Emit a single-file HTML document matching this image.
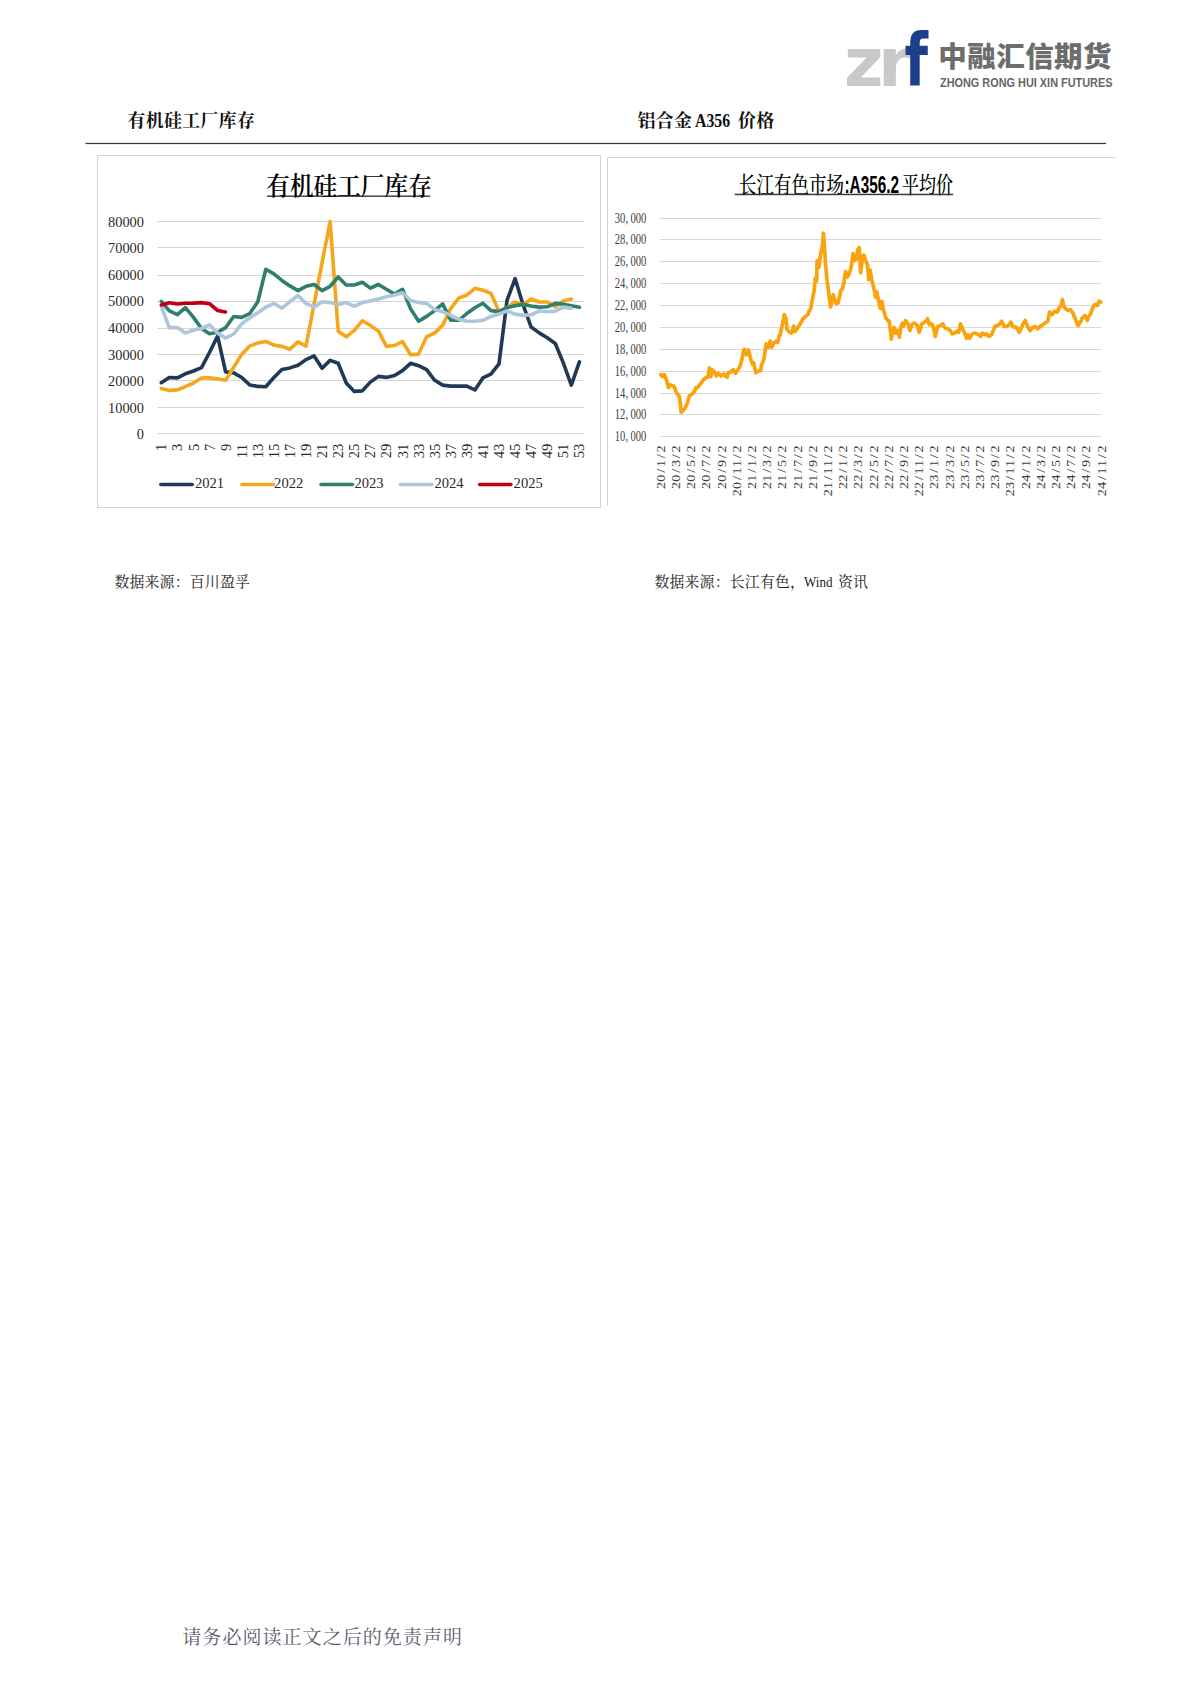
<!DOCTYPE html>
<html lang="zh-CN">
<head>
<meta charset="utf-8">
<title>中融汇信期货</title>
<style>
html,body{margin:0;padding:0;background:#fff;}
body{width:1190px;height:1683px;position:relative;overflow:hidden;font-family:"Liberation Serif","Noto Serif CJK SC",serif;color:#111;}
svg{font-family:"Liberation Serif","Noto Serif CJK SC",serif;}
.t{position:absolute;white-space:nowrap;line-height:1;}
.h{font-size:17.9px;font-weight:700;color:#111;letter-spacing:0.35px;}
.src{font-size:14.9px;color:#222;letter-spacing:0.18px;}
.foot{font-size:19px;letter-spacing:1.05px;color:#575e6c;font-weight:400;}
.logo-cn{font-family:"Liberation Sans","Noto Sans CJK SC",sans-serif;font-weight:900;color:#6d6d6d;font-size:28.5px;}
.logo-en{font-family:"Liberation Sans",sans-serif;font-weight:700;color:#666;font-size:13.2px;}
</style>
</head>
<body>
<svg width="1190" height="1683" viewBox="0 0 1190 1683" style="position:absolute;left:0;top:0">
<rect x="85.5" y="142.9" width="1020.5" height="1.2" fill="#333"/>
<rect x="97.5" y="155.5" width="503" height="352" fill="#fff" stroke="#d4d4d4" stroke-width="1"/>
<path d="M607.5 505.5V157.5H1115.5" fill="none" stroke="#d4d4d4" stroke-width="1"/>
<line x1="157.5" x2="583.5" y1="433.5" y2="433.5" stroke="#d6d6d6" stroke-width="1"/>
<text x="144" y="439.1" text-anchor="end" font-size="15" fill="#2a2a2a" textLength="7.2" lengthAdjust="spacingAndGlyphs">0</text>
<line x1="157.5" x2="583.5" y1="407.5" y2="407.5" stroke="#d6d6d6" stroke-width="1"/>
<text x="144" y="412.6" text-anchor="end" font-size="15" fill="#2a2a2a" textLength="36.0" lengthAdjust="spacingAndGlyphs">10000</text>
<line x1="157.5" x2="583.5" y1="380.5" y2="380.5" stroke="#d6d6d6" stroke-width="1"/>
<text x="144" y="386.0" text-anchor="end" font-size="15" fill="#2a2a2a" textLength="36.0" lengthAdjust="spacingAndGlyphs">20000</text>
<line x1="157.5" x2="583.5" y1="354.5" y2="354.5" stroke="#d6d6d6" stroke-width="1"/>
<text x="144" y="359.5" text-anchor="end" font-size="15" fill="#2a2a2a" textLength="36.0" lengthAdjust="spacingAndGlyphs">30000</text>
<line x1="157.5" x2="583.5" y1="328.5" y2="328.5" stroke="#d6d6d6" stroke-width="1"/>
<text x="144" y="332.9" text-anchor="end" font-size="15" fill="#2a2a2a" textLength="36.0" lengthAdjust="spacingAndGlyphs">40000</text>
<line x1="157.5" x2="583.5" y1="301.5" y2="301.5" stroke="#d6d6d6" stroke-width="1"/>
<text x="144" y="306.4" text-anchor="end" font-size="15" fill="#2a2a2a" textLength="36.0" lengthAdjust="spacingAndGlyphs">50000</text>
<line x1="157.5" x2="583.5" y1="275.5" y2="275.5" stroke="#d6d6d6" stroke-width="1"/>
<text x="144" y="279.9" text-anchor="end" font-size="15" fill="#2a2a2a" textLength="36.0" lengthAdjust="spacingAndGlyphs">60000</text>
<line x1="157.5" x2="583.5" y1="247.5" y2="247.5" stroke="#d6d6d6" stroke-width="1"/>
<text x="144" y="253.3" text-anchor="end" font-size="15" fill="#2a2a2a" textLength="36.0" lengthAdjust="spacingAndGlyphs">70000</text>
<line x1="157.5" x2="583.5" y1="221.5" y2="221.5" stroke="#d6d6d6" stroke-width="1"/>
<text x="144" y="226.8" text-anchor="end" font-size="15" fill="#2a2a2a" textLength="36.0" lengthAdjust="spacingAndGlyphs">80000</text>
<text x="266.3" y="194.7" font-size="24.6" font-weight="600" fill="#000" textLength="165.5" lengthAdjust="spacingAndGlyphs">有机硅工厂库存</text>
<rect x="267" y="195.6" width="163.2" height="1.1" fill="#000"/>
<text transform="translate(166.3,443.8) rotate(-90)" x="0" y="0" text-anchor="end" font-size="15" fill="#2a2a2a" textLength="7.2" lengthAdjust="spacingAndGlyphs">1</text>
<text transform="translate(182.4,443.8) rotate(-90)" x="0" y="0" text-anchor="end" font-size="15" fill="#2a2a2a" textLength="7.2" lengthAdjust="spacingAndGlyphs">3</text>
<text transform="translate(198.5,443.8) rotate(-90)" x="0" y="0" text-anchor="end" font-size="15" fill="#2a2a2a" textLength="7.2" lengthAdjust="spacingAndGlyphs">5</text>
<text transform="translate(214.5,443.8) rotate(-90)" x="0" y="0" text-anchor="end" font-size="15" fill="#2a2a2a" textLength="7.2" lengthAdjust="spacingAndGlyphs">7</text>
<text transform="translate(230.6,443.8) rotate(-90)" x="0" y="0" text-anchor="end" font-size="15" fill="#2a2a2a" textLength="7.2" lengthAdjust="spacingAndGlyphs">9</text>
<text transform="translate(246.7,443.8) rotate(-90)" x="0" y="0" text-anchor="end" font-size="15" fill="#2a2a2a" textLength="14.5" lengthAdjust="spacingAndGlyphs">11</text>
<text transform="translate(262.8,443.8) rotate(-90)" x="0" y="0" text-anchor="end" font-size="15" fill="#2a2a2a" textLength="14.5" lengthAdjust="spacingAndGlyphs">13</text>
<text transform="translate(278.9,443.8) rotate(-90)" x="0" y="0" text-anchor="end" font-size="15" fill="#2a2a2a" textLength="14.5" lengthAdjust="spacingAndGlyphs">15</text>
<text transform="translate(294.9,443.8) rotate(-90)" x="0" y="0" text-anchor="end" font-size="15" fill="#2a2a2a" textLength="14.5" lengthAdjust="spacingAndGlyphs">17</text>
<text transform="translate(311.0,443.8) rotate(-90)" x="0" y="0" text-anchor="end" font-size="15" fill="#2a2a2a" textLength="14.5" lengthAdjust="spacingAndGlyphs">19</text>
<text transform="translate(327.1,443.8) rotate(-90)" x="0" y="0" text-anchor="end" font-size="15" fill="#2a2a2a" textLength="14.5" lengthAdjust="spacingAndGlyphs">21</text>
<text transform="translate(343.2,443.8) rotate(-90)" x="0" y="0" text-anchor="end" font-size="15" fill="#2a2a2a" textLength="14.5" lengthAdjust="spacingAndGlyphs">23</text>
<text transform="translate(359.3,443.8) rotate(-90)" x="0" y="0" text-anchor="end" font-size="15" fill="#2a2a2a" textLength="14.5" lengthAdjust="spacingAndGlyphs">25</text>
<text transform="translate(375.3,443.8) rotate(-90)" x="0" y="0" text-anchor="end" font-size="15" fill="#2a2a2a" textLength="14.5" lengthAdjust="spacingAndGlyphs">27</text>
<text transform="translate(391.4,443.8) rotate(-90)" x="0" y="0" text-anchor="end" font-size="15" fill="#2a2a2a" textLength="14.5" lengthAdjust="spacingAndGlyphs">29</text>
<text transform="translate(407.5,443.8) rotate(-90)" x="0" y="0" text-anchor="end" font-size="15" fill="#2a2a2a" textLength="14.5" lengthAdjust="spacingAndGlyphs">31</text>
<text transform="translate(423.6,443.8) rotate(-90)" x="0" y="0" text-anchor="end" font-size="15" fill="#2a2a2a" textLength="14.5" lengthAdjust="spacingAndGlyphs">33</text>
<text transform="translate(439.7,443.8) rotate(-90)" x="0" y="0" text-anchor="end" font-size="15" fill="#2a2a2a" textLength="14.5" lengthAdjust="spacingAndGlyphs">35</text>
<text transform="translate(455.7,443.8) rotate(-90)" x="0" y="0" text-anchor="end" font-size="15" fill="#2a2a2a" textLength="14.5" lengthAdjust="spacingAndGlyphs">37</text>
<text transform="translate(471.8,443.8) rotate(-90)" x="0" y="0" text-anchor="end" font-size="15" fill="#2a2a2a" textLength="14.5" lengthAdjust="spacingAndGlyphs">39</text>
<text transform="translate(487.9,443.8) rotate(-90)" x="0" y="0" text-anchor="end" font-size="15" fill="#2a2a2a" textLength="14.5" lengthAdjust="spacingAndGlyphs">41</text>
<text transform="translate(504.0,443.8) rotate(-90)" x="0" y="0" text-anchor="end" font-size="15" fill="#2a2a2a" textLength="14.5" lengthAdjust="spacingAndGlyphs">43</text>
<text transform="translate(520.1,443.8) rotate(-90)" x="0" y="0" text-anchor="end" font-size="15" fill="#2a2a2a" textLength="14.5" lengthAdjust="spacingAndGlyphs">45</text>
<text transform="translate(536.1,443.8) rotate(-90)" x="0" y="0" text-anchor="end" font-size="15" fill="#2a2a2a" textLength="14.5" lengthAdjust="spacingAndGlyphs">47</text>
<text transform="translate(552.2,443.8) rotate(-90)" x="0" y="0" text-anchor="end" font-size="15" fill="#2a2a2a" textLength="14.5" lengthAdjust="spacingAndGlyphs">49</text>
<text transform="translate(568.3,443.8) rotate(-90)" x="0" y="0" text-anchor="end" font-size="15" fill="#2a2a2a" textLength="14.5" lengthAdjust="spacingAndGlyphs">51</text>
<text transform="translate(584.4,443.8) rotate(-90)" x="0" y="0" text-anchor="end" font-size="15" fill="#2a2a2a" textLength="14.5" lengthAdjust="spacingAndGlyphs">53</text>
<polyline points="161.3,382.7 169.3,377.5 177.4,377.9 185.4,373.8 193.5,371.0 201.5,367.7 209.5,352.5 217.6,336.0 225.6,371.9 233.7,372.9 241.7,377.5 249.7,384.9 257.8,386.4 265.8,386.7 273.9,377.5 281.9,369.5 289.9,367.9 298.0,365.2 306.0,359.6 314.1,355.9 322.1,368.3 330.1,360.4 338.2,363.3 346.2,382.9 354.3,391.4 362.3,390.9 370.3,382.1 378.4,376.4 386.4,377.4 394.5,375.5 402.5,370.6 410.5,363.3 418.6,365.7 426.6,369.7 434.7,380.3 442.7,385.1 450.7,386.1 458.8,386.1 466.8,386.1 474.9,390.0 482.9,377.9 490.9,374.2 499.0,363.8 507.0,300.4 515.1,278.6 523.1,304.9 531.1,327.0 539.2,332.9 547.2,337.7 555.3,343.5 563.3,362.9 571.3,385.1 579.4,361.9" fill="none" stroke="#203a56" stroke-width="3.6" stroke-linejoin="round" stroke-linecap="round"/>
<polyline points="161.3,388.6 169.3,390.4 177.4,389.9 185.4,386.7 193.5,383.0 201.5,378.0 209.5,377.9 217.6,378.8 225.6,380.3 233.7,367.3 241.7,354.4 249.7,346.1 257.8,342.9 265.8,341.4 273.9,345.1 281.9,346.4 289.9,349.2 298.0,341.8 306.0,346.1 314.1,303.9 322.1,262.7 330.1,221.6 338.2,331.2 346.2,336.8 354.3,330.4 362.3,320.8 370.3,325.4 378.4,330.9 386.4,346.4 394.5,345.5 402.5,341.5 410.5,354.8 418.6,354.1 426.6,336.8 434.7,332.9 442.7,325.1 450.7,308.6 458.8,298.0 466.8,295.1 474.9,288.3 482.9,290.3 490.9,293.2 499.0,311.6 507.0,307.7 515.1,302.0 523.1,304.8 531.1,299.0 539.2,302.0 547.2,302.0 555.3,306.8 563.3,300.9 571.3,299.0" fill="none" stroke="#f5a61b" stroke-width="3.6" stroke-linejoin="round" stroke-linecap="round"/>
<polyline points="161.3,301.3 169.3,310.9 177.4,314.6 185.4,307.6 193.5,317.4 201.5,328.5 209.5,333.7 217.6,332.2 225.6,327.6 233.7,316.5 241.7,317.4 249.7,313.7 257.8,301.7 265.8,269.3 273.9,273.9 281.9,280.4 289.9,285.9 298.0,290.6 306.0,286.3 314.1,284.5 322.1,290.6 330.1,286.3 338.2,277.0 346.2,285.0 354.3,285.0 362.3,282.2 370.3,288.1 378.4,284.5 386.4,289.3 394.5,294.1 402.5,289.3 410.5,308.6 418.6,321.2 426.6,316.4 434.7,310.6 442.7,303.9 450.7,320.3 458.8,320.3 466.8,313.5 474.9,307.7 482.9,303.2 490.9,310.6 499.0,311.6 507.0,307.7 515.1,305.7 523.1,304.4 531.1,306.1 539.2,307.1 547.2,306.8 555.3,303.4 563.3,304.2 571.3,305.7 579.4,307.3" fill="none" stroke="#2f7f6d" stroke-width="3.6" stroke-linejoin="round" stroke-linecap="round"/>
<polyline points="161.3,306.3 169.3,327.6 177.4,327.6 185.4,333.1 193.5,330.0 201.5,328.5 209.5,324.8 217.6,333.1 225.6,338.1 233.7,334.0 241.7,323.9 249.7,317.9 257.8,312.8 265.8,307.2 273.9,303.5 281.9,308.1 289.9,301.7 298.0,295.5 306.0,303.5 314.1,307.2 322.1,301.7 330.1,302.6 338.2,304.4 346.2,302.6 354.3,306.3 362.3,302.5 370.3,301.1 378.4,299.0 386.4,296.7 394.5,295.1 402.5,292.8 410.5,300.5 418.6,302.4 426.6,303.4 434.7,309.6 442.7,311.6 450.7,315.4 458.8,319.3 466.8,321.2 474.9,321.2 482.9,320.3 490.9,316.4 499.0,314.1 507.0,311.0 515.1,314.1 523.1,315.4 531.1,314.8 539.2,311.0 547.2,311.6 555.3,311.2 563.3,307.1 571.3,308.3" fill="none" stroke="#adc6dc" stroke-width="3.6" stroke-linejoin="round" stroke-linecap="round"/>
<polyline points="161.3,304.9 169.3,302.8 177.4,304.0 185.4,303.3 193.5,303.1 201.5,302.6 209.5,303.7 217.6,310.5 225.6,312.0" fill="none" stroke="#c0000f" stroke-width="3.6" stroke-linejoin="round" stroke-linecap="round"/>
<line x1="160.8" x2="192.3" y1="484.5" y2="484.5" stroke="#203a56" stroke-width="3.4" stroke-linecap="round"/>
<text x="194.9" y="488.3" font-size="15" fill="#2a2a2a" textLength="29.2" lengthAdjust="spacingAndGlyphs">2021</text>
<line x1="241.8" x2="273.3" y1="484.5" y2="484.5" stroke="#f5a61b" stroke-width="3.4" stroke-linecap="round"/>
<text x="274.1" y="488.3" font-size="15" fill="#2a2a2a" textLength="29.2" lengthAdjust="spacingAndGlyphs">2022</text>
<line x1="321.0" x2="352.5" y1="484.5" y2="484.5" stroke="#2f7f6d" stroke-width="3.4" stroke-linecap="round"/>
<text x="354.4" y="488.3" font-size="15" fill="#2a2a2a" textLength="29.2" lengthAdjust="spacingAndGlyphs">2023</text>
<line x1="400.3" x2="431.8" y1="484.5" y2="484.5" stroke="#adc6dc" stroke-width="3.4" stroke-linecap="round"/>
<text x="434.4" y="488.3" font-size="15" fill="#2a2a2a" textLength="29.2" lengthAdjust="spacingAndGlyphs">2024</text>
<line x1="479.5" x2="511.0" y1="484.5" y2="484.5" stroke="#c0000f" stroke-width="3.4" stroke-linecap="round"/>
<text x="513.6" y="488.3" font-size="15" fill="#2a2a2a" textLength="29.2" lengthAdjust="spacingAndGlyphs">2025</text>
<line x1="659.8" x2="1101.3" y1="436.5" y2="436.5" stroke="#d9d9d9" stroke-width="1"/>
<text transform="translate(646.3,440.5) scale(0.737,1)" x="-42.90 -35.75 -28.30 -21.45 -14.30 -7.15" y="0" font-size="14.3" fill="#3c3c3c">10,000</text>
<line x1="659.8" x2="1101.3" y1="414.5" y2="414.5" stroke="#d9d9d9" stroke-width="1"/>
<text transform="translate(646.3,418.5) scale(0.737,1)" x="-42.90 -35.75 -28.30 -21.45 -14.30 -7.15" y="0" font-size="14.3" fill="#3c3c3c">12,000</text>
<line x1="659.8" x2="1101.3" y1="393.5" y2="393.5" stroke="#d9d9d9" stroke-width="1"/>
<text transform="translate(646.3,397.5) scale(0.737,1)" x="-42.90 -35.75 -28.30 -21.45 -14.30 -7.15" y="0" font-size="14.3" fill="#3c3c3c">14,000</text>
<line x1="659.8" x2="1101.3" y1="371.5" y2="371.5" stroke="#d9d9d9" stroke-width="1"/>
<text transform="translate(646.3,375.5) scale(0.737,1)" x="-42.90 -35.75 -28.30 -21.45 -14.30 -7.15" y="0" font-size="14.3" fill="#3c3c3c">16,000</text>
<line x1="659.8" x2="1101.3" y1="349.5" y2="349.5" stroke="#d9d9d9" stroke-width="1"/>
<text transform="translate(646.3,353.5) scale(0.737,1)" x="-42.90 -35.75 -28.30 -21.45 -14.30 -7.15" y="0" font-size="14.3" fill="#3c3c3c">18,000</text>
<line x1="659.8" x2="1101.3" y1="327.5" y2="327.5" stroke="#d9d9d9" stroke-width="1"/>
<text transform="translate(646.3,331.5) scale(0.737,1)" x="-42.90 -35.75 -28.30 -21.45 -14.30 -7.15" y="0" font-size="14.3" fill="#3c3c3c">20,000</text>
<line x1="659.8" x2="1101.3" y1="305.5" y2="305.5" stroke="#d9d9d9" stroke-width="1"/>
<text transform="translate(646.3,309.5) scale(0.737,1)" x="-42.90 -35.75 -28.30 -21.45 -14.30 -7.15" y="0" font-size="14.3" fill="#3c3c3c">22,000</text>
<line x1="659.8" x2="1101.3" y1="283.5" y2="283.5" stroke="#d9d9d9" stroke-width="1"/>
<text transform="translate(646.3,287.5) scale(0.737,1)" x="-42.90 -35.75 -28.30 -21.45 -14.30 -7.15" y="0" font-size="14.3" fill="#3c3c3c">24,000</text>
<line x1="659.8" x2="1101.3" y1="261.5" y2="261.5" stroke="#d9d9d9" stroke-width="1"/>
<text transform="translate(646.3,265.5) scale(0.737,1)" x="-42.90 -35.75 -28.30 -21.45 -14.30 -7.15" y="0" font-size="14.3" fill="#3c3c3c">26,000</text>
<line x1="659.8" x2="1101.3" y1="239.5" y2="239.5" stroke="#d9d9d9" stroke-width="1"/>
<text transform="translate(646.3,243.5) scale(0.737,1)" x="-42.90 -35.75 -28.30 -21.45 -14.30 -7.15" y="0" font-size="14.3" fill="#3c3c3c">28,000</text>
<line x1="659.8" x2="1101.3" y1="218.5" y2="218.5" stroke="#d9d9d9" stroke-width="1"/>
<text transform="translate(646.3,222.5) scale(0.737,1)" x="-42.90 -35.75 -28.30 -21.45 -14.30 -7.15" y="0" font-size="14.3" fill="#3c3c3c">30,000</text>
<polyline points="660.7,374.6 662.3,376.7 664.3,374.6 665.4,377.0 666.4,380.1 667.1,382.0 667.8,385.4 668.4,387.6 670.5,384.9 673.9,386.2 674.8,387.7 675.7,390.8 676.6,393.1 678.0,394.5 679.4,396.5 679.6,397.9 679.9,401.0 680.1,402.4 680.4,405.3 680.6,406.9 680.9,409.2 681.1,412.2 682.8,410.8 684.8,408.8 685.9,406.2 686.9,404.0 687.6,402.5 688.3,399.2 688.9,397.3 689.6,395.8 692.3,393.7 694.4,391.7 695.1,389.9 695.8,387.6 697.8,387.6 699.9,384.2 701.2,383.3 702.6,380.8 705.3,378.0 708.1,376.7 708.4,374.6 708.7,372.0 709.1,370.9 709.4,367.8 709.8,369.2 710.1,372.9 710.5,374.1 710.8,376.7 711.2,373.7 711.7,371.4 712.2,369.8 714.2,371.9 715.2,373.6 716.3,376.0 718.3,373.3 721.0,376.0 723.8,373.9 725.5,376.2 727.2,377.3 727.5,374.7 727.9,373.3 730.6,371.9 733.3,369.8 735.4,373.3 737.4,370.5 739.5,367.1 740.2,365.2 740.8,363.3 741.5,361.0 742.1,358.4 742.6,356.4 743.2,353.2 743.7,350.9 744.3,349.3 745.3,351.5 746.3,354.8 747.3,352.7 748.4,350.0 748.9,351.9 749.4,353.8 749.9,356.3 750.4,358.2 751.1,360.2 751.8,362.0 752.5,364.4 753.8,363.0 754.3,365.9 754.8,368.1 755.4,369.7 755.9,372.6 757.9,371.2 760.7,370.5 761.0,368.3 761.3,365.7 762.2,363.3 763.2,361.4 764.1,358.2 764.4,356.6 764.7,353.7 764.9,352.9 765.2,349.3 765.5,347.8 765.8,346.4 766.1,343.9 768.2,347.3 768.9,344.6 769.5,343.2 770.2,341.1 770.7,342.4 771.1,345.5 771.6,347.3 772.6,345.7 773.6,343.2 776.4,341.1 777.7,342.5 778.2,340.4 778.6,338.6 779.1,335.7 780.0,335.7 780.5,333.0 781.0,331.3 781.5,328.7 782.0,326.1 782.5,323.9 782.9,321.4 783.3,319.8 783.7,317.6 784.1,314.5 785.1,316.9 786.1,319.3 786.3,322.0 786.5,323.3 786.7,326.8 786.8,328.9 788.9,331.6 791.6,333.0 792.3,330.9 793.0,329.3 793.7,326.1 794.3,329.4 795.0,331.6 797.1,328.9 798.4,326.4 799.8,324.8 800.7,322.7 801.6,321.4 802.5,319.3 805.3,316.6 808.0,314.5 808.9,311.6 809.8,310.3 810.7,308.4 811.1,305.6 811.6,303.3 812.0,301.0 812.4,300.1 812.8,297.4 813.2,294.5 813.7,292.4 814.2,290.6 814.3,288.4 814.5,287.2 814.7,283.7 814.9,282.3 815.1,280.4 815.2,278.3 816.6,281.0 816.7,279.7 816.7,277.5 816.8,275.5 816.8,272.4 816.9,270.6 816.9,268.5 817.0,267.4 817.0,265.5 817.1,262.0 817.2,260.5 817.8,262.2 818.3,264.6 818.9,267.4 819.2,264.8 819.5,263.1 819.8,261.1 820.1,258.4 820.4,255.8 820.7,254.4 821.0,252.3 821.4,250.1 821.8,248.4 822.2,247.0 822.6,244.2 822.8,242.3 823.0,239.8 823.1,237.8 823.3,235.7 823.4,233.2 823.6,234.5 823.8,238.0 823.9,239.9 824.1,242.1 824.2,244.0 824.4,245.5 824.5,247.4 824.6,249.4 824.8,251.0 824.9,254.0 825.0,255.0 825.1,257.0 825.2,259.3 825.4,261.9 825.5,263.4 825.7,265.7 825.9,267.3 826.0,269.2 826.2,271.5 826.4,273.5 826.6,276.0 826.7,278.3 827.1,279.7 827.4,283.5 827.8,285.1 828.0,287.4 828.3,288.6 828.5,290.8 828.7,293.1 829.0,295.1 829.2,297.4 829.5,299.1 829.9,302.8 830.2,305.5 830.5,307.0 831.1,304.9 831.6,302.9 832.0,300.8 832.5,298.1 832.9,296.0 833.3,294.7 834.0,297.1 834.6,300.2 836.0,303.6 838.1,302.9 838.7,299.7 839.4,297.4 839.9,295.7 840.3,292.3 840.8,290.6 842.8,287.9 843.3,284.7 843.8,284.1 844.2,281.0 844.5,278.7 844.9,275.6 845.2,273.9 845.6,271.5 846.4,273.4 847.2,276.9 849.0,274.2 849.7,272.0 850.4,270.5 851.0,267.4 851.4,265.8 851.7,263.2 852.1,260.1 852.4,258.0 852.7,255.4 853.1,253.7 853.5,256.5 854.0,258.3 854.5,260.5 856.5,259.2 856.8,257.3 857.2,254.1 857.5,251.5 857.9,249.6 859.2,247.6 859.3,250.2 859.5,252.7 859.6,254.5 859.7,256.5 859.8,258.7 859.9,260.6 860.0,261.8 860.1,264.4 860.3,266.3 860.4,267.8 860.5,269.9 860.6,272.8 860.9,270.4 861.1,268.3 861.4,267.0 861.7,264.6 861.9,263.4 862.2,260.5 862.4,259.3 862.7,256.4 864.0,255.1 864.7,258.0 865.4,259.2 866.4,262.7 867.4,264.6 867.6,266.5 867.8,268.4 868.0,270.6 868.2,272.7 868.4,274.8 868.6,277.7 868.8,279.7 869.1,278.0 869.5,275.5 869.8,272.5 870.2,270.1 870.5,272.4 870.8,274.7 871.2,275.5 871.5,278.3 872.0,280.6 872.6,283.1 873.1,285.0 873.6,286.5 874.0,289.1 874.4,290.8 874.8,292.5 875.2,295.8 875.6,297.4 876.3,294.4 877.0,292.0 877.3,294.6 877.7,296.9 878.0,297.9 878.4,300.2 878.9,302.0 879.4,305.1 879.9,306.7 880.4,308.4 880.9,305.5 881.3,303.1 881.8,301.5 882.3,303.3 882.8,307.0 883.3,309.3 883.8,311.1 884.5,312.7 885.2,316.2 885.9,317.9 887.9,320.7 889.3,321.3 889.5,324.4 889.8,326.1 890.1,327.7 890.3,330.3 890.6,331.8 890.8,333.8 891.1,337.7 891.3,339.1 891.7,337.1 892.0,334.7 892.4,333.2 892.7,330.2 894.1,327.5 894.8,330.1 895.4,333.0 897.5,330.2 898.2,333.2 898.9,335.4 899.5,337.0 899.9,334.1 900.2,331.8 900.6,329.5 900.9,327.5 901.6,325.0 902.3,323.4 903.6,326.1 904.7,323.5 905.7,320.7 907.7,323.4 908.4,325.2 909.1,327.8 909.8,330.2 910.0,330.6 910.6,328.0 911.1,327.4 911.7,324.7 914.2,323.0 916.7,324.7 917.6,327.0 918.4,329.7 919.2,332.3 919.9,330.3 920.5,328.8 921.1,325.8 921.8,323.9 924.3,322.2 926.0,321.3 927.6,318.8 928.2,320.8 928.8,322.8 929.3,324.7 931.8,323.9 932.7,326.0 933.5,328.1 933.9,329.3 934.4,332.2 934.8,333.8 935.2,336.5 935.7,333.6 936.2,333.0 936.7,329.8 937.2,328.4 937.7,326.4 940.3,325.5 942.8,323.9 944.0,326.4 945.3,328.1 947.8,328.9 950.3,330.6 952.0,333.9 954.5,333.1 957.1,331.4 958.7,332.3 959.2,330.3 959.6,327.8 960.0,326.0 960.4,323.9 961.4,326.1 962.4,328.1 963.5,331.1 964.6,333.1 965.5,334.9 966.3,338.2 968.0,334.8 969.7,338.2 970.9,336.2 972.2,333.9 974.7,333.1 977.2,333.9 978.9,334.8 980.6,336.5 982.3,333.1 984.8,334.8 986.5,333.9 989.0,336.5 991.5,334.8 992.4,332.3 993.2,330.6 994.0,329.0 994.9,326.4 997.4,325.5 999.9,323.9 1001.6,321.3 1002.9,323.9 1004.1,326.4 1006.6,326.4 1009.2,324.7 1010.8,322.2 1012.1,324.8 1013.4,327.2 1015.9,327.2 1017.6,328.9 1019.2,332.3 1020.9,328.9 1021.9,326.9 1022.9,323.9 1024.0,322.9 1025.1,320.5 1026.0,322.5 1026.8,324.7 1028.5,328.1 1030.2,330.6 1031.4,329.1 1032.7,327.2 1035.2,326.4 1037.7,328.9 1040.3,326.4 1042.8,324.7 1045.3,323.0 1047.8,321.3 1048.2,319.0 1048.7,316.7 1049.1,314.8 1049.5,312.1 1052.0,314.6 1053.3,312.9 1054.5,311.3 1057.1,312.1 1058.3,309.6 1059.6,307.1 1061.3,305.4 1061.8,302.4 1062.4,299.5 1062.9,302.5 1063.3,304.3 1063.8,306.2 1065.5,308.7 1068.0,310.4 1070.5,309.6 1071.8,311.9 1073.0,312.9 1073.9,316.0 1074.7,317.0 1075.5,319.7 1076.4,321.7 1077.2,324.4 1078.1,325.5 1079.7,323.0 1081.0,321.1 1082.3,318.0 1084.8,315.5 1086.1,317.3 1087.3,320.5 1088.2,317.7 1089.0,316.3 1090.7,313.8 1091.5,311.2 1092.4,308.7 1093.6,305.9 1094.9,304.5 1097.4,305.4 1098.2,302.8 1099.1,301.2 1100.8,302.0" fill="none" stroke="#f9a30e" stroke-width="3.7" stroke-linejoin="round" stroke-linecap="round"/>
<text transform="translate(664.7,445.2) rotate(-90) scale(1,0.88)" x="-43.83 -36.51 -27.60 -21.87 -12.96 -7.22" y="0" font-size="14.26" fill="#3c3c3c">20/1/2</text>
<text transform="translate(679.9,445.2) rotate(-90) scale(1,0.88)" x="-43.83 -36.51 -27.60 -21.87 -12.96 -7.22" y="0" font-size="14.26" fill="#3c3c3c">20/3/2</text>
<text transform="translate(695.1,445.2) rotate(-90) scale(1,0.88)" x="-43.83 -36.51 -27.60 -21.87 -12.96 -7.22" y="0" font-size="14.26" fill="#3c3c3c">20/5/2</text>
<text transform="translate(710.3,445.2) rotate(-90) scale(1,0.88)" x="-43.83 -36.51 -27.60 -21.87 -12.96 -7.22" y="0" font-size="14.26" fill="#3c3c3c">20/7/2</text>
<text transform="translate(725.5,445.2) rotate(-90) scale(1,0.88)" x="-43.83 -36.51 -27.60 -21.87 -12.96 -7.22" y="0" font-size="14.26" fill="#3c3c3c">20/9/2</text>
<text transform="translate(740.7,445.2) rotate(-90) scale(1,0.88)" x="-51.15 -43.83 -34.92 -29.19 -21.87 -12.96 -7.22" y="0" font-size="14.26" fill="#3c3c3c">20/11/2</text>
<text transform="translate(755.9,445.2) rotate(-90) scale(1,0.88)" x="-43.83 -36.51 -27.60 -21.87 -12.96 -7.22" y="0" font-size="14.26" fill="#3c3c3c">21/1/2</text>
<text transform="translate(771.1,445.2) rotate(-90) scale(1,0.88)" x="-43.83 -36.51 -27.60 -21.87 -12.96 -7.22" y="0" font-size="14.26" fill="#3c3c3c">21/3/2</text>
<text transform="translate(786.3,445.2) rotate(-90) scale(1,0.88)" x="-43.83 -36.51 -27.60 -21.87 -12.96 -7.22" y="0" font-size="14.26" fill="#3c3c3c">21/5/2</text>
<text transform="translate(801.5,445.2) rotate(-90) scale(1,0.88)" x="-43.83 -36.51 -27.60 -21.87 -12.96 -7.22" y="0" font-size="14.26" fill="#3c3c3c">21/7/2</text>
<text transform="translate(816.7,445.2) rotate(-90) scale(1,0.88)" x="-43.83 -36.51 -27.60 -21.87 -12.96 -7.22" y="0" font-size="14.26" fill="#3c3c3c">21/9/2</text>
<text transform="translate(831.9,445.2) rotate(-90) scale(1,0.88)" x="-51.15 -43.83 -34.92 -29.19 -21.87 -12.96 -7.22" y="0" font-size="14.26" fill="#3c3c3c">21/11/2</text>
<text transform="translate(847.1,445.2) rotate(-90) scale(1,0.88)" x="-43.83 -36.51 -27.60 -21.87 -12.96 -7.22" y="0" font-size="14.26" fill="#3c3c3c">22/1/2</text>
<text transform="translate(862.3,445.2) rotate(-90) scale(1,0.88)" x="-43.83 -36.51 -27.60 -21.87 -12.96 -7.22" y="0" font-size="14.26" fill="#3c3c3c">22/3/2</text>
<text transform="translate(877.5,445.2) rotate(-90) scale(1,0.88)" x="-43.83 -36.51 -27.60 -21.87 -12.96 -7.22" y="0" font-size="14.26" fill="#3c3c3c">22/5/2</text>
<text transform="translate(892.7,445.2) rotate(-90) scale(1,0.88)" x="-43.83 -36.51 -27.60 -21.87 -12.96 -7.22" y="0" font-size="14.26" fill="#3c3c3c">22/7/2</text>
<text transform="translate(907.9,445.2) rotate(-90) scale(1,0.88)" x="-43.83 -36.51 -27.60 -21.87 -12.96 -7.22" y="0" font-size="14.26" fill="#3c3c3c">22/9/2</text>
<text transform="translate(923.1,445.2) rotate(-90) scale(1,0.88)" x="-51.15 -43.83 -34.92 -29.19 -21.87 -12.96 -7.22" y="0" font-size="14.26" fill="#3c3c3c">22/11/2</text>
<text transform="translate(938.2,445.2) rotate(-90) scale(1,0.88)" x="-43.83 -36.51 -27.60 -21.87 -12.96 -7.22" y="0" font-size="14.26" fill="#3c3c3c">23/1/2</text>
<text transform="translate(953.5,445.2) rotate(-90) scale(1,0.88)" x="-43.83 -36.51 -27.60 -21.87 -12.96 -7.22" y="0" font-size="14.26" fill="#3c3c3c">23/3/2</text>
<text transform="translate(968.7,445.2) rotate(-90) scale(1,0.88)" x="-43.83 -36.51 -27.60 -21.87 -12.96 -7.22" y="0" font-size="14.26" fill="#3c3c3c">23/5/2</text>
<text transform="translate(983.9,445.2) rotate(-90) scale(1,0.88)" x="-43.83 -36.51 -27.60 -21.87 -12.96 -7.22" y="0" font-size="14.26" fill="#3c3c3c">23/7/2</text>
<text transform="translate(999.1,445.2) rotate(-90) scale(1,0.88)" x="-43.83 -36.51 -27.60 -21.87 -12.96 -7.22" y="0" font-size="14.26" fill="#3c3c3c">23/9/2</text>
<text transform="translate(1014.2,445.2) rotate(-90) scale(1,0.88)" x="-51.15 -43.83 -34.92 -29.19 -21.87 -12.96 -7.22" y="0" font-size="14.26" fill="#3c3c3c">23/11/2</text>
<text transform="translate(1029.5,445.2) rotate(-90) scale(1,0.88)" x="-43.83 -36.51 -27.60 -21.87 -12.96 -7.22" y="0" font-size="14.26" fill="#3c3c3c">24/1/2</text>
<text transform="translate(1044.7,445.2) rotate(-90) scale(1,0.88)" x="-43.83 -36.51 -27.60 -21.87 -12.96 -7.22" y="0" font-size="14.26" fill="#3c3c3c">24/3/2</text>
<text transform="translate(1059.9,445.2) rotate(-90) scale(1,0.88)" x="-43.83 -36.51 -27.60 -21.87 -12.96 -7.22" y="0" font-size="14.26" fill="#3c3c3c">24/5/2</text>
<text transform="translate(1075.0,445.2) rotate(-90) scale(1,0.88)" x="-43.83 -36.51 -27.60 -21.87 -12.96 -7.22" y="0" font-size="14.26" fill="#3c3c3c">24/7/2</text>
<text transform="translate(1090.2,445.2) rotate(-90) scale(1,0.88)" x="-43.83 -36.51 -27.60 -21.87 -12.96 -7.22" y="0" font-size="14.26" fill="#3c3c3c">24/9/2</text>
<text transform="translate(1105.5,445.2) rotate(-90) scale(1,0.88)" x="-51.15 -43.83 -34.92 -29.19 -21.87 -12.96 -7.22" y="0" font-size="14.26" fill="#3c3c3c">24/11/2</text>
<text x="739" y="193.2" font-size="22.6" font-weight="500" fill="#000" textLength="105" lengthAdjust="spacingAndGlyphs">长江有色市场</text>
<text x="844.5" y="193.3" font-size="23.4" font-weight="bold" fill="#000" style="font-family:'Liberation Sans',sans-serif" textLength="54.5" lengthAdjust="spacingAndGlyphs">:A356.2</text>
<text x="902" y="193.2" font-size="22.6" font-weight="500" fill="#000" textLength="51" lengthAdjust="spacingAndGlyphs">平均价</text>
<rect x="734.7" y="193.7" width="218.5" height="1.5" fill="#3a3a3a"/>
</svg>
<!-- logo -->
<svg width="110" height="80" viewBox="0 0 110 80" style="position:absolute;left:840px;top:20.7px;font-family:'DejaVu Sans','Liberation Sans',sans-serif;font-weight:bold">
<text x="4" y="65" font-size="67" fill="#c9c9c9" textLength="39.5" lengthAdjust="spacingAndGlyphs">z</text>
<text x="38" y="65" font-size="67" fill="#c9c9c9" textLength="34" lengthAdjust="spacingAndGlyphs">r</text>
<text x="64.5" y="65" font-size="73" fill="#1b3f8b" textLength="23.5" lengthAdjust="spacingAndGlyphs">f</text>
</svg>
<div class="t logo-cn" style="left:938.3px;top:43px;letter-spacing:0.45px;">中融汇信期货</div>
<div class="t logo-en" style="left:940px;top:75.6px;transform-origin:0 0;transform:scaleX(0.826);">ZHONG RONG HUI XIN FUTURES</div>

<div class="t h" style="left:127.6px;top:113.3px;">有机硅工厂库存</div>
<div class="t h" style="left:637.6px;top:113.3px;">铝合金</div>
<div class="t h" style="left:695.4px;top:113.3px;letter-spacing:0;transform-origin:0 0;transform:scaleX(0.885);">A356</div>
<div class="t h" style="left:738px;top:113.3px;">价格</div>

<div class="t src" style="left:114.4px;top:574.7px;">数据来源：百川盈孚</div>
<div class="t src" style="left:654.4px;top:574.7px;">数据来源：长江有色，</div>
<div class="t src" style="left:803.9px;top:574.7px;letter-spacing:0;transform-origin:0 0;transform:scaleX(0.875);">Wind</div>
<div class="t src" style="left:837.9px;top:574.7px;">资讯</div>

<div class="t foot" style="left:182.3px;top:1627.6px;">请务必阅读正文之后的免责声明</div>
</body>
</html>
